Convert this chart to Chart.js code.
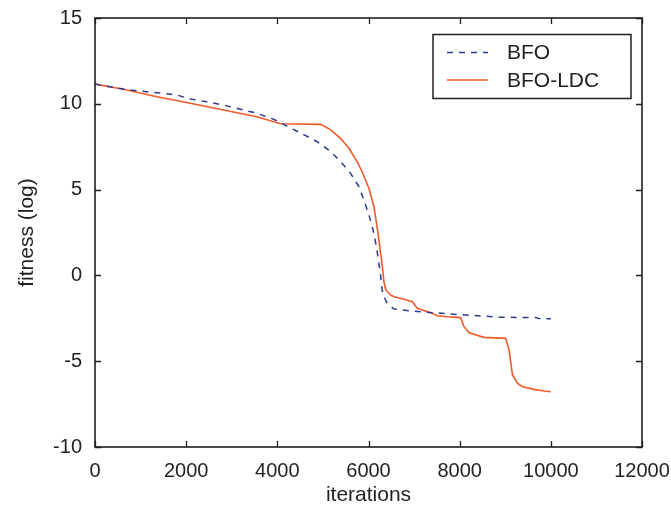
<!DOCTYPE html>
<html>
<head>
<meta charset="utf-8">
<script src="https://cdn.jsdelivr.net/npm/chart.js@4.4.0/dist/chart.umd.min.js"></script>
<style>
  body { margin: 0; background: #fff; }
  #wrap { width: 671px; height: 513px; }
</style>
</head>
<body>
<div id="wrap"><canvas id="grafico" width="671" height="513"></canvas></div>
<script>
// datos
const bfoIter = [0, 400, 770, 1140, 1500, 1800, 2090, 2450, 2820, 3190, 3550, 3920, 4210, 4580, 4870, 5170, 5390, 5600, 5790, 5900, 6010, 6120, 6190, 6260, 6300, 6340, 6410, 6560, 6920, 7800, 8900, 9670, 9780, 10000];
const bfoFit = [11.15, 10.96, 10.8, 10.7, 10.61, 10.51, 10.28, 10.12, 9.93, 9.68, 9.45, 9.1, 8.7, 8.2, 7.8, 7.22, 6.63, 5.97, 5.17, 4.39, 3.52, 2.45, 1.4, 0.12, -0.85, -1.24, -1.63, -1.96, -2.07, -2.25, -2.44, -2.46, -2.54, -2.52];

const ldcIter = [0, 620, 1360, 2090, 2820, 3550, 4070, 4950, 5165, 5385, 5570, 5750, 5860, 6010, 6120, 6210, 6260, 6300, 6340, 6380, 6480, 6560, 6780, 6960, 7070, 7360, 7510, 7730, 8020, 8095, 8205, 8535, 9010, 9084, 9158, 9270, 9380, 9630, 9850, 10000];
const ldcFit = [11.15, 10.85, 10.41, 10.03, 9.64, 9.25, 8.84, 8.8, 8.5, 7.99, 7.41, 6.63, 6.04, 5.07, 4.0, 2.45, 1.4, 0.6, -0.4, -0.85, -1.14, -1.24, -1.39, -1.53, -1.92, -2.17, -2.35, -2.41, -2.46, -2.99, -3.34, -3.61, -3.67, -4.35, -5.8, -6.29, -6.49, -6.64, -6.74, -6.78];

const xTicks = [0, 2000, 4000, 6000, 8000, 10000, 12000];
const yTicks = [-10, -5, 0, 5, 10, 15];

const fuente = "'Liberation Sans', Arial, sans-serif";
const azul = '#2b3a91';
const rojo = '#f15a29';

function puntos(xs, ys) {
  return xs.map(function (x, i) { return { x: x, y: ys[i] }; });
}

// marco y marcas hacia adentro en los cuatro lados
const marcoPlugin = {
  id: 'marco',
  afterDraw: function (chart) {
    const ctx = chart.ctx;
    const a = chart.chartArea;
    const sx = chart.scales.x, sy = chart.scales.y;
    const largo = 6;
    ctx.save();
    ctx.strokeStyle = '#231f20';
    ctx.lineWidth = 1.3;
    sx.ticks.forEach(function (t, i) {
      const px = Math.round(sx.getPixelForTick(i)) + 0.5;
      ctx.beginPath();
      ctx.moveTo(px, a.bottom); ctx.lineTo(px, a.bottom - largo);
      ctx.moveTo(px, a.top); ctx.lineTo(px, a.top + largo);
      ctx.stroke();
    });
    sy.ticks.forEach(function (t, i) {
      const py = Math.round(sy.getPixelForTick(i)) + 0.5;
      ctx.beginPath();
      ctx.moveTo(a.left, py); ctx.lineTo(a.left + largo, py);
      ctx.moveTo(a.right, py); ctx.lineTo(a.right - largo, py);
      ctx.stroke();
    });
    ctx.lineWidth = 1.6;
    ctx.strokeRect(a.left, a.top, a.right - a.left, a.bottom - a.top);

    // leyenda
    const lx = 433, ly = 34.5, lw = 198, lh = 64;
    ctx.fillStyle = '#fff';
    ctx.fillRect(lx, ly, lw, lh);
    ctx.lineWidth = 1.5;
    ctx.strokeStyle = '#231f20';
    ctx.strokeRect(lx, ly, lw, lh);
    chart.data.datasets.forEach(function (ds, i) {
      const yy = ly + 18 + i * 27.5;
      ctx.beginPath();
      ctx.strokeStyle = ds.borderColor;
      ctx.lineWidth = ds.borderWidth;
      ctx.setLineDash(ds.borderDash || []);
      ctx.moveTo(447, yy); ctx.lineTo(488, yy);
      ctx.stroke();
      ctx.setLineDash([]);
      ctx.fillStyle = '#231f20';
      ctx.font = '21px ' + fuente;
      ctx.textBaseline = 'middle';
      ctx.textAlign = 'left';
      ctx.fillText(ds.label, 507, yy + 1);
    });
    ctx.restore();
  }
};

const ctx = document.getElementById('grafico');
new Chart(ctx, {
  type: 'line',
  data: {
    datasets: [{
      label: 'BFO',
      data: puntos(bfoIter, bfoFit),
      borderColor: azul,
      borderWidth: 1.5,
      borderDash: [6, 6],
      pointRadius: 0,
      fill: false,
      tension: 0
    }, {
      label: 'BFO-LDC',
      data: puntos(ldcIter, ldcFit),
      borderColor: rojo,
      borderWidth: 1.6,
      pointRadius: 0,
      fill: false,
      tension: 0
    }]
  },
  options: {
    responsive: false,
    animation: false,
    layout: { padding: { top: 18, right: 29, left: 0, bottom: 0 } },
    plugins: {
      legend: { display: false },
      tooltip: { enabled: false }
    },
    scales: {
      x: {
        type: 'linear',
        min: 0,
        max: 12000,
        afterBuildTicks: function (s) { s.ticks = xTicks.map(function (v) { return { value: v }; }); },
        afterFit: function (s) { s.height = 66; s.paddingLeft = 0; s.paddingRight = 0; },
        grid: { display: false, drawTicks: false },
        border: { display: false },
        ticks: {
          color: '#231f20', font: { family: fuente, size: 20 }, padding: 12, maxRotation: 0,
          callback: function (v) { return String(v); }
        },
        title: { display: true, text: 'iterations', color: '#231f20', font: { family: fuente, size: 21 }, padding: { top: 0, bottom: 5 } }
      },
      y: {
        type: 'linear',
        min: -10,
        max: 15,
        afterBuildTicks: function (s) { s.ticks = yTicks.map(function (v) { return { value: v }; }); },
        afterFit: function (s) { s.width = 95; s.paddingTop = 0; s.paddingBottom = 0; },
        grid: { display: false, drawTicks: false },
        border: { display: false },
        ticks: {
          color: '#231f20', font: { family: fuente, size: 20 }, padding: 13,
          callback: function (v) { return String(v); }
        },
        title: { display: true, text: 'fitness (log)', color: '#231f20', font: { family: fuente, size: 21 }, padding: { top: 15, bottom: 0 } }
      }
    }
  },
  plugins: [marcoPlugin]
});
</script>
</body>
</html>
